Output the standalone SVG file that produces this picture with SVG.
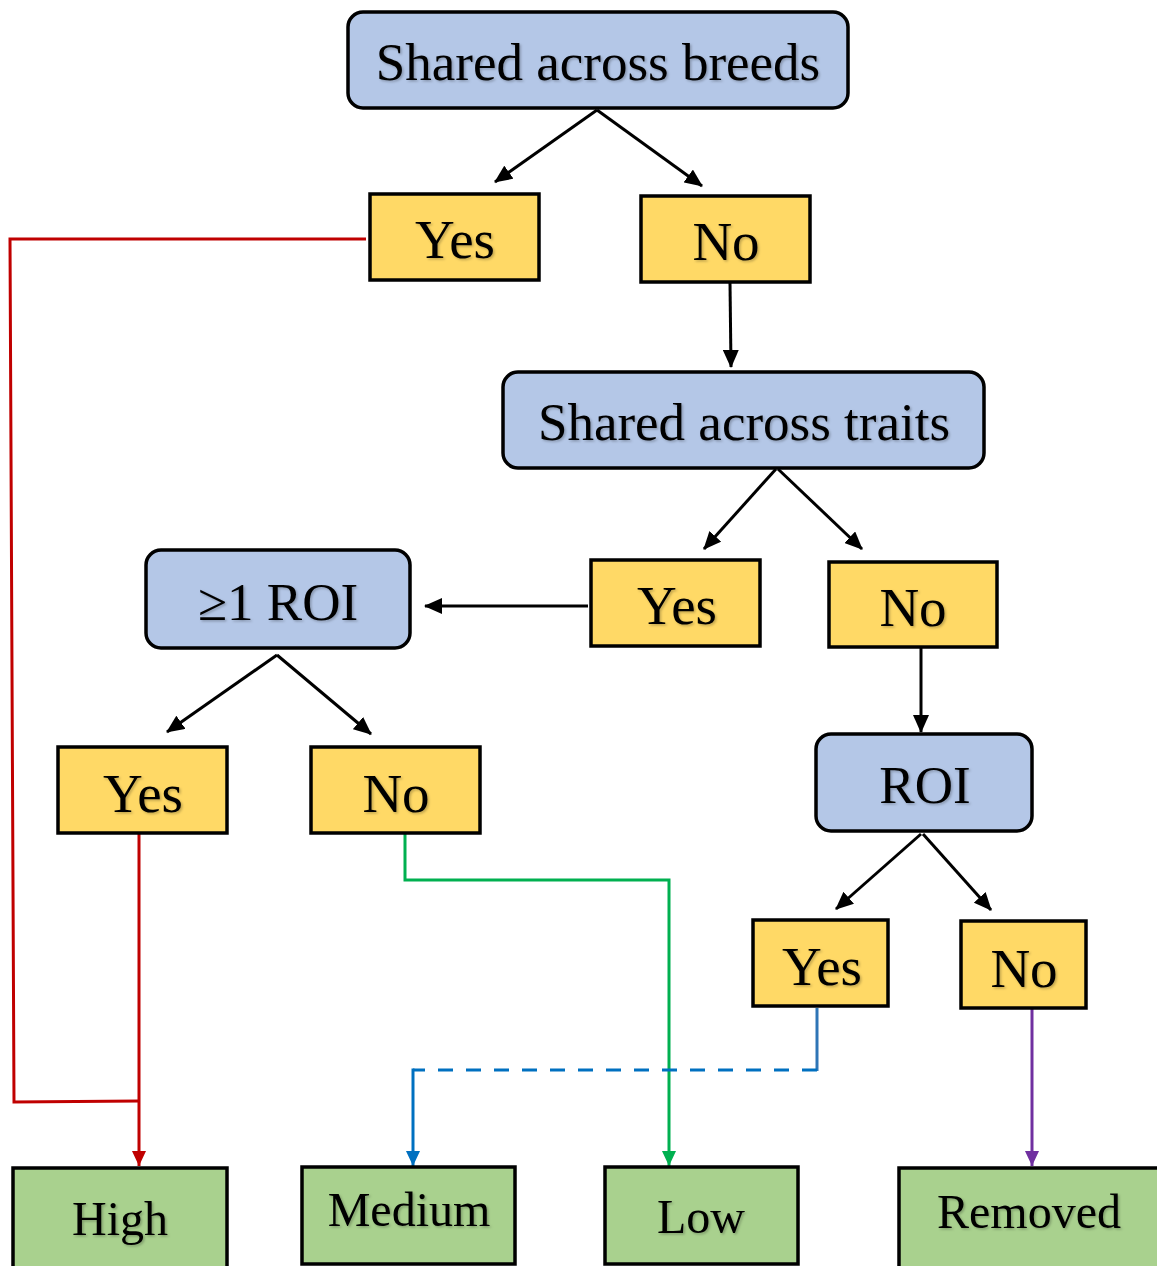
<svg xmlns="http://www.w3.org/2000/svg" width="1157" height="1266" viewBox="0 0 1157 1266">
<style>
.q{fill:#B4C7E7;stroke:#000;stroke-width:3.5}
.a{fill:#FFD966;stroke:#000;stroke-width:3.5}
.r{fill:#A9D18E;stroke:#000;stroke-width:3.5}
text{font-family:"Liberation Serif","Times New Roman",serif;fill:#000;text-anchor:middle;filter:url(#sh)}
.big{font-size:53px}
.ans{font-size:55px}
.res{font-size:48px}
.k{fill:none;stroke:#000;stroke-width:3}
.c{fill:none;stroke-width:3}
</style>
<defs>
<filter id="sh" x="-10%" y="-20%" width="120%" height="140%">
<feDropShadow dx="1.5" dy="1.5" stdDeviation="1" flood-color="#000" flood-opacity="0.25"/>
</filter>
<marker id="mk" markerUnits="userSpaceOnUse" markerWidth="18" markerHeight="16" refX="17" refY="8" orient="auto"><path d="M0,0 L18,8 L0,16 Z" fill="#000"/></marker>
<marker id="mr" markerUnits="userSpaceOnUse" markerWidth="15" markerHeight="14" refX="15" refY="7" orient="auto"><path d="M0,0 L15,7 L0,14 Z" fill="#C00000"/></marker>
<marker id="mb" markerUnits="userSpaceOnUse" markerWidth="15" markerHeight="14" refX="15" refY="7" orient="auto"><path d="M0,0 L15,7 L0,14 Z" fill="#0070C0"/></marker>
<marker id="mg" markerUnits="userSpaceOnUse" markerWidth="15" markerHeight="14" refX="15" refY="7" orient="auto"><path d="M0,0 L15,7 L0,14 Z" fill="#00B050"/></marker>
<marker id="mp" markerUnits="userSpaceOnUse" markerWidth="15" markerHeight="14" refX="15" refY="7" orient="auto"><path d="M0,0 L15,7 L0,14 Z" fill="#7030A0"/></marker>
</defs>

<g id="connectors">
<line class="k" x1="597" y1="110" x2="495" y2="182" marker-end="url(#mk)"/>
<line class="k" x1="597" y1="110" x2="702" y2="186" marker-end="url(#mk)"/>
<line class="k" x1="730" y1="283" x2="731" y2="367" marker-end="url(#mk)"/>
<line class="k" x1="776" y1="469" x2="704" y2="549" marker-end="url(#mk)"/>
<line class="k" x1="778" y1="469" x2="862" y2="549" marker-end="url(#mk)"/>
<line class="k" x1="588" y1="606" x2="425" y2="606" marker-end="url(#mk)"/>
<line class="k" x1="277" y1="655" x2="167" y2="732" marker-end="url(#mk)"/>
<line class="k" x1="277" y1="655" x2="371" y2="734" marker-end="url(#mk)"/>
<line class="k" x1="921" y1="648" x2="921" y2="732" marker-end="url(#mk)"/>
<line class="k" x1="921" y1="834" x2="836" y2="909" marker-end="url(#mk)"/>
<line class="k" x1="923" y1="834" x2="991" y2="910" marker-end="url(#mk)"/>
<polyline class="c" stroke="#C00000" points="366,239 10,239 14,1102 139,1101"/>
<line class="c" stroke="#C00000" x1="139" y1="834" x2="139" y2="1166" marker-end="url(#mr)"/>
<polyline class="c" stroke="#00B050" points="405,834 405,880 669,880 669,1166" marker-end="url(#mg)"/>
<line class="c" stroke="#2E75B6" x1="817" y1="1008" x2="817" y2="1071"/>
<line class="c" stroke="#0070C0" stroke-dasharray="15,13" x1="817" y1="1070" x2="413" y2="1070"/>
<line class="c" stroke="#0070C0" x1="413" y1="1068.5" x2="413" y2="1166" marker-end="url(#mb)"/>
<line class="c" stroke="#7030A0" x1="1032" y1="1009" x2="1032" y2="1166" marker-end="url(#mp)"/>
</g>

<g id="n-breeds"><rect class="q" x="348" y="12" width="500" height="96" rx="15"/><text class="big" x="598" y="80">Shared across breeds</text></g>
<g id="n-yes1"><rect class="a" x="370" y="194" width="169" height="86"/><text class="ans" x="455" y="258">Yes</text></g>
<g id="n-no1"><rect class="a" x="641" y="196" width="169" height="86"/><text class="ans" x="726" y="260">No</text></g>
<g id="n-traits"><rect class="q" x="503" y="372" width="481" height="96" rx="15"/><text class="big" x="744" y="440">Shared across traits</text></g>
<g id="n-yes2"><rect class="a" x="591" y="560" width="169" height="86"/><text class="ans" x="677" y="624">Yes</text></g>
<g id="n-no2"><rect class="a" x="829" y="562" width="168" height="85"/><text class="ans" x="913" y="626">No</text></g>
<g id="n-roi1"><rect class="q" x="146" y="550" width="264" height="98" rx="15"/><text class="big" x="278" y="620">≥1 ROI</text></g>
<g id="n-yes3"><rect class="a" x="58" y="747" width="169" height="86"/><text class="ans" x="143" y="812">Yes</text></g>
<g id="n-no3"><rect class="a" x="311" y="747" width="169" height="86"/><text class="ans" x="396" y="812">No</text></g>
<g id="n-roi"><rect class="q" x="816" y="734" width="216" height="97" rx="15"/><text class="big" x="925" y="803">ROI</text></g>
<g id="n-yes4"><rect class="a" x="753" y="920" width="135" height="86"/><text class="ans" x="822" y="985">Yes</text></g>
<g id="n-no4"><rect class="a" x="961" y="921" width="125" height="87"/><text class="ans" x="1024" y="987">No</text></g>
<g id="n-high"><rect class="r" x="13" y="1168" width="214" height="100"/><text class="res" x="120" y="1235">High</text></g>
<g id="n-medium"><rect class="r" x="302" y="1167" width="213" height="97"/><text class="res" x="409" y="1226">Medium</text></g>
<g id="n-low"><rect class="r" x="605" y="1167" width="193" height="97"/><text class="res" x="701" y="1233">Low</text></g>
<g id="n-removed"><rect class="r" x="899" y="1168" width="262" height="100"/><text class="res" x="1029" y="1228">Removed</text></g>
</svg>
